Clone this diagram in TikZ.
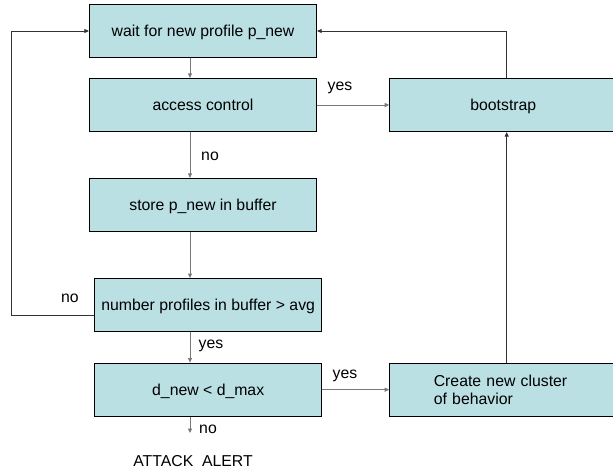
\documentclass[tikz,border=0pt]{standalone}
\usepackage{fontspec}
\setmainfont{Liberation Sans}
\usetikzlibrary{arrows.meta, positioning}
\definecolor{boxfill}{RGB}{186,224,228}
\definecolor{lineg}{RGB}{120,120,120}
\definecolor{lined}{RGB}{50,50,50}
\tikzstyle{flowbox}=[rectangle, draw=black, line width=1.2pt, fill=boxfill,
  font=\fontsize{15.8}{18.5}\selectfont, align=center,
  minimum width=227pt, minimum height=53pt, inner sep=0pt]
\tikzstyle{onebox}=[flowbox, text height=1.1em, text depth=0pt]
\tikzstyle{lbl}=[font=\fontsize{15.8}{18.5}\selectfont, inner sep=0pt]
\tikzstyle{garr}=[-{Triangle[length=4.5pt,width=4pt]}, line width=0.9pt, color=lineg]
\tikzstyle{darr}=[-{Triangle[length=4.5pt,width=4pt]}, line width=0.9pt, color=lined]

\begin{document}
\begin{tikzpicture}[x=1pt, y=-1pt]
        \useasboundingbox (0,0) rectangle (613,469);
        \clip (0,0) rectangle (613,469);
        % left column
        \node[onebox] (wait) at (203,31) {wait for new profile p\_new};
        \node[onebox] (access) at (203,105) {access control};
        \node[onebox] (store) at (203,205) {store p\_new in buffer};
        \node[onebox] (count) at (208.2,305.2) {number profiles in buffer > avg};
        \node[onebox] (dcheck) at (208.2,389.7) {d\_new < d\_max};
        % right column
        \node[onebox] (boot) at (503.3,105) {bootstrap};
        \node[flowbox, text width=139pt, align=left] (create) at (503.3,389.7)
          {Create new cluster\\of behavior};
        \node[lbl] (alert) at (193,461.5) {ATTACK\ \ ALERT};
        \coordinate (ax) at (190,0);
        \coordinate (vx) at (506.7,0);
        \coordinate (loop) at (11.3,315.3);
        \coordinate (aend) at (190,433);
        % labels
        \node[lbl] (yes1) at (340,88) {yes};
        \node[lbl] (no1) at (210,156) {no};
        \node[lbl] (no2) at (70,298) {no};
        \node[lbl] (yes2) at (211,345.5) {yes};
        \node[lbl] (yes3) at (345,376) {yes};
        \node[lbl] (no3) at (208,429.5) {no};
        % arrows
        \draw[garr] (wait.south -| ax)--(access.north -| ax);
        \draw[garr] (access.east)--(boot.west);
        \draw[garr] (access.south -| ax)--(store.north -| ax);
        \draw[garr] (store.south -| ax)--(count.north -| ax);
        \draw[garr] (count.south -| ax)--(dcheck.north -| ax);
        \draw[garr] (dcheck.south -| ax)--(aend);
        \draw[garr] (dcheck.east)--(create.west);
        \draw[darr] (create.north -| vx)--(boot.south -| vx);
        \draw[darr] (boot.north -| vx) |- (wait.east);
        \draw[darr] (count.west |- loop)--(loop) |- (wait.west);
      \end{tikzpicture}
\end{document}
